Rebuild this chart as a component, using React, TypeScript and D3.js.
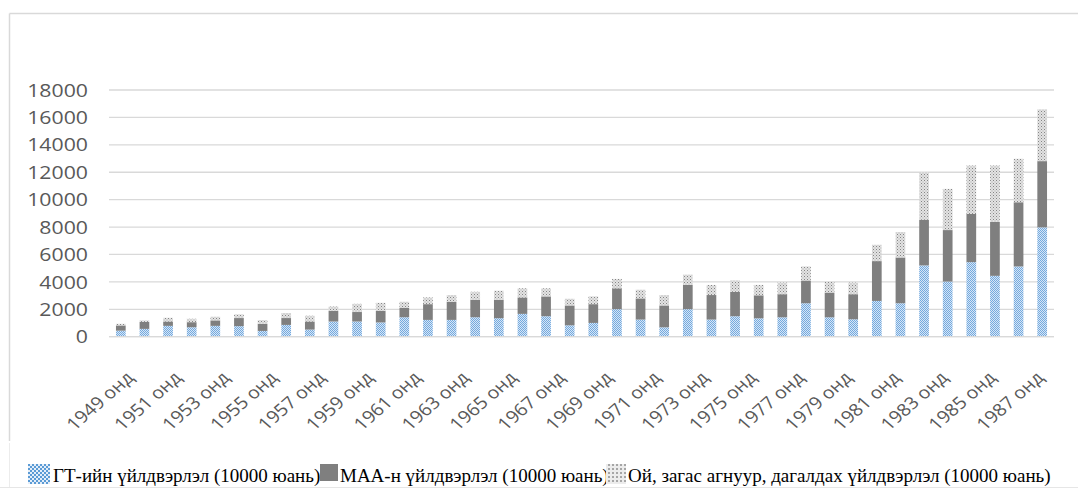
import React from "react";
import * as d3 from "d3";

const years: number[] = [
  1949, 1950, 1951, 1952, 1953, 1954, 1955, 1956, 1957, 1958,
  1959, 1960, 1961, 1962, 1963, 1964, 1965, 1966, 1967, 1968,
  1969, 1970, 1971, 1972, 1973, 1974, 1975, 1976, 1977, 1978,
  1979, 1980, 1981, 1982, 1983, 1984, 1985, 1986, 1987, 1988,
];
const agriculture: number[] = [
  440, 570, 790, 690, 790, 770, 420, 860, 520, 1110,
  1110, 1040, 1420, 1225, 1225, 1420, 1350, 1665, 1495, 830,
  1005, 2010, 1250, 685, 2010, 1250, 1495, 1340, 1415, 2440,
  1415, 1270, 2610, 2440, 5200, 4025, 5440, 4440, 5125, 7980,
];
const livestock: number[] = [
  380, 510, 320, 370, 400, 590, 520, 500, 590, 770,
  690, 840, 690, 1150, 1325, 1275, 1345, 1200, 1445, 1450,
  1370, 1520, 1545, 1595, 1765, 1790, 1785, 1680, 1685, 1660,
  1805, 1830, 2905, 3340, 3340, 3755, 3515, 3930, 4685, 4830,
];
const forestry: number[] = [
  120, 110, 270, 250, 270, 270, 270, 370, 420, 320,
  600, 590, 440, 490, 490, 585, 660, 665, 590, 490,
  565, 685, 635, 760, 755, 735, 835, 760, 850, 1025,
  780, 850, 1195, 1860, 3460, 3005, 3535, 4120, 3170, 3780,
];
const tickLabels: string[] = [
  "1949 онд", "1951 онд", "1953 онд", "1955 онд", "1957 онд",
  "1959 онд", "1961 онд", "1963 онд", "1965 онд", "1967 онд",
  "1969 онд", "1971 онд", "1973 онд", "1975 онд", "1977 онд",
  "1979 онд", "1981 онд", "1983 онд", "1985 онд", "1987 онд",
];
const yTicks: number[] = [0, 2000, 4000, 6000, 8000, 10000, 12000, 14000, 16000, 18000];
const seriesNames: string[] = [
  "ГТ-ийн үйлдвэрлэл (10000 юань)",
  "МАА-н үйлдвэрлэл (10000 юань)",
  "Ой, загас агнуур, дагалдах үйлдвэрлэл (10000 юань)",
];

const W = 1078;
const H = 488;
const plot = { left: 109, right: 1054, top: 90, bottom: 336.7 };
const fills = ["url(#patBlue)", "#7f7f7f", "url(#patDots)"];
const axisFont = "'Open Sans', 'Liberation Sans', Arial, sans-serif";
const legendFont = "'Liberation Serif', 'Times New Roman', serif";
const textColor = "#595959";

export default function App() {
  const x = d3
    .scaleBand<number>()
    .domain(years)
    .range([plot.left, plot.right])
    .paddingInner(0.59)
    .paddingOuter(0.295);
  const y = d3.scaleLinear().domain([0, 18000]).range([plot.bottom, plot.top]);
  const labelX = d3
    .scalePoint<string>()
    .domain(tickLabels)
    .range([plot.left + 21, plot.right - 14]);

  const rows = years.map((yr, i) => ({
    year: yr,
    a: agriculture[i],
    b: livestock[i],
    c: forestry[i],
  }));
  const stack = d3.stack<any>().keys(["a", "b", "c"]);
  const layers = stack(rows);

  const legendItems = [
    { sx: 28, tx: 53, w: 22 },
    { sx: 320, tx: 340, w: 18 },
    { sx: 606, tx: 628, w: 20 },
  ];

  return (
    <svg width={W} height={H} style={{ display: "block", position: "absolute", left: 0, top: 0 }}>
      <defs>
        <pattern id="patBlue" width="2" height="2" patternUnits="userSpaceOnUse">
          <rect width="2" height="2" fill="#d6e6f6" />
          <rect width="1" height="1" fill="#74a9de" />
          <rect x="1" y="1" width="1" height="1" fill="#74a9de" />
        </pattern>
        <pattern id="patDots" width="3" height="3" patternUnits="userSpaceOnUse">
          <rect width="3" height="3" fill="#e3e3e3" />
          <rect width="1" height="1" fill="#858585" />
          <rect x="1.5" y="1.5" width="1" height="1" fill="#aaaaaa" />
        </pattern>
        <pattern id="patBlueL" width="4" height="4" patternUnits="userSpaceOnUse">
          <rect width="4" height="4" fill="#e4eef9" />
          <rect width="2" height="2" fill="#5b9bd5" />
          <rect x="2" y="2" width="2" height="2" fill="#5b9bd5" />
        </pattern>
        <pattern id="patDotsL" width="4" height="4" patternUnits="userSpaceOnUse">
          <rect width="4" height="4" fill="#ececec" />
          <rect width="2" height="2" fill="#a6a6a6" />
        </pattern>
      </defs>
      <rect x={0} y={0} width={W} height={H} fill="#ffffff" />
      {/* frame */}
      <line x1={9.5} y1={13.5} x2={W} y2={13.5} stroke="#d9d9d9" strokeWidth={1.5} />
      <line x1={9.5} y1={13.5} x2={9.5} y2={441} stroke="#d9d9d9" strokeWidth={1.5} />
      <line x1={9.5} y1={443} x2={9.5} y2={H} stroke="#ececec" strokeWidth={1} />
      <line x1={0} y1={487.5} x2={W} y2={487.5} stroke="#e6e6e6" strokeWidth={1} />

      {/* gridlines */}
      {yTicks.map((t) => (
        <line
          key={t}
          x1={plot.left}
          x2={plot.right}
          y1={y(t)}
          y2={y(t)}
          stroke="#d9d9d9"
          strokeWidth={1.3}
        />
      ))}
      {/* y tick labels */}
      {yTicks.map((t) => (
        <text
          key={"l" + t}
          transform={`translate(88,${y(t)}) scale(1.15,1)`}
          textAnchor="end"
          dy="0.36em"
          fontFamily={axisFont}
          fontSize={18.5}
          fill={textColor}
        >
          {t}
        </text>
      ))}

      {/* bars */}
      {layers.map((layer, li) => (
        <g key={li} fill={fills[li]}>
          {layer.map((d: any) => (
            <rect
              key={d.data.year}
              x={x(d.data.year)}
              width={x.bandwidth()}
              y={y(d[1])}
              height={y(d[0]) - y(d[1])}
            />
          ))}
        </g>
      ))}

      {/* x axis line */}
      <line x1={plot.left} x2={plot.right} y1={y(0)} y2={y(0)} stroke="#d9d9d9" strokeWidth={1.3} />

      {/* x tick labels */}
      {tickLabels.map((lab) => (
        <text
          key={lab}
          transform={`translate(${labelX(lab)},${plot.bottom + 38}) scale(1.15,1) rotate(-45)`}
          textAnchor="end"
          dy="0.35em"
          fontFamily={axisFont}
          fontSize={17}
          fill={textColor}
        >
          {lab}
        </text>
      ))}

      {/* legend */}
      {seriesNames.map((name, i) => (
        <g key={name}>
          <rect
            x={legendItems[i].sx}
            y={464}
            width={legendItems[i].w}
            height={i === 1 ? 17 : 20}
            fill={i === 0 ? "url(#patBlueL)" : i === 1 ? "#7f7f7f" : "url(#patDotsL)"}
          />
          <text x={legendItems[i].tx} y={482} fontFamily={legendFont} fontSize={19} fill="#000">
            {name}
          </text>
        </g>
      ))}
    </svg>
  );
}
